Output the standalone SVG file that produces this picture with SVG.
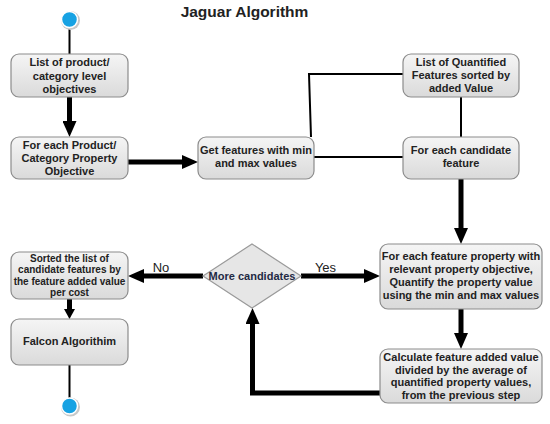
<svg xmlns="http://www.w3.org/2000/svg" width="550" height="424" viewBox="0 0 550 424">
<style>
.box{fill:url(#g);stroke:#8c8c8c;stroke-width:1.2}
.t{font-family:"Liberation Sans",Arial,sans-serif;font-weight:bold;font-size:11px;fill:#222;text-anchor:middle}
.ts{font-size:10px}
.thin{fill:none;stroke:#000;stroke-width:2}
.thick{fill:none;stroke:#000;stroke-width:5}
.lbl{font-family:"Liberation Sans",Arial,sans-serif;font-size:13px;fill:#222;text-anchor:middle}
.dot{fill:#17a2e3;stroke:#fff;stroke-width:1.5}
.sh{fill:#c8c8c8}
</style>
<defs>
<linearGradient id="g" x1="0" y1="0" x2="0" y2="1">
<stop offset="0" stop-color="#f5f5f5"/>
<stop offset="1" stop-color="#dadada"/>
</linearGradient>
<marker id="ah" markerWidth="16" markerHeight="14" refX="4" refY="7" orient="auto" markerUnits="userSpaceOnUse"><path d="M0,0 L16,7 L0,14 z" fill="#000"/></marker>
<marker id="ahs" markerWidth="10" markerHeight="11" refX="3" refY="5.5" orient="auto" markerUnits="userSpaceOnUse"><path d="M0,0 L10,5.5 L0,11 z" fill="#000"/></marker>
</defs>
<rect width="550" height="424" fill="#fff"/>
<text x="244.5" y="17" font-family="'Liberation Sans',Arial,sans-serif" font-weight="bold" font-size="15.5" fill="#222" text-anchor="middle">Jaguar Algorithm</text>
<g id="connectors">
<path class="thin" d="M69.5,27 V54"/>
<path class="thick" d="M69.5,97 V125" marker-end="url(#ah)"/>
<path class="thick" d="M128,162 H186" marker-end="url(#ah)"/>
<path class="thin" d="M311,137 L309,74 H403"/>
<path class="thin" d="M314,157 H403"/>
<path class="thin" d="M461,97 V137"/>
<path class="thick" d="M461,179 V232" marker-end="url(#ah)"/>
<path class="thick" d="M461,309 V337" marker-end="url(#ah)"/>
<path class="thick" d="M380,393 H252.5 V320" marker-end="url(#ah)"/>
<path class="thick" d="M301,276 H368" marker-end="url(#ah)"/>
<path class="thick" d="M203,276 H140" marker-end="url(#ah)"/>
<path class="thick" d="M69.5,299 V312" marker-end="url(#ahs)"/>
<path class="thin" d="M69.5,365 V398"/>
<text class="lbl" x="161" y="272">No</text>
<text class="lbl" x="325.5" y="272">Yes</text>
</g>
<g id="start"><circle class="sh" cx="70.5" cy="20.5" r="9.5"/><circle class="dot" cx="69.5" cy="19.5" r="8"/></g>
<g id="n1"><rect class="box" x="11" y="54" width="117" height="43" rx="8"/>
<text class="t" x="69.5" y="66">List of product/</text><text class="t" x="69.5" y="79.5">category level</text><text class="t" x="69.5" y="92.5">objectives</text></g>
<g id="n2"><rect class="box" x="11" y="137" width="117" height="42" rx="8"/>
<text class="t" x="69.5" y="149">For each Product/</text><text class="t" x="69.5" y="162">Category Property</text><text class="t" x="69.5" y="175">Objective</text></g>
<g id="n3"><rect class="box" x="198" y="137" width="116" height="42" rx="8"/>
<text class="t" x="256" y="154">Get features with min</text><text class="t" x="256" y="167">and max values</text></g>
<g id="n4"><rect class="box" x="403" y="54" width="116" height="43" rx="8"/>
<text class="t" x="461" y="66">List of Quantified</text><text class="t" x="461" y="79">Features sorted by</text><text class="t" x="461" y="92">added Value</text></g>
<g id="n5"><rect class="box" x="403" y="137" width="116" height="42" rx="8"/>
<text class="t" x="461" y="154">For each candidate</text><text class="t" x="461" y="167">feature</text></g>
<g id="n6"><rect class="box" x="380" y="244" width="162" height="65" rx="8"/>
<text class="t" x="461" y="260">For each feature property with</text><text class="t" x="461" y="273">relevant property objective,</text><text class="t" x="461" y="286">Quantify the property value</text><text class="t" x="461" y="299">using the min and max values</text></g>
<g id="n7"><rect class="box" x="380" y="349" width="162" height="54" rx="8"/>
<text class="t" x="461" y="361">Calculate feature added value</text><text class="t" x="461" y="373.5">divided by the average of</text><text class="t" x="461" y="386">quantified property values,</text><text class="t" x="461" y="398.5">from the previous step</text></g>
<g id="decision"><polygon points="203,276 252,244 301,276 252,308" fill="#e6e6e6" stroke="#9a9a9a" stroke-width="1.2"/>
<text class="t" x="252" y="280" style="fill:#1f2a44">More candidates</text></g>
<g id="n8"><rect class="box" x="11" y="252" width="117" height="47" rx="8"/>
<text class="t ts" x="69.5" y="262">Sorted the list of</text><text class="t ts" x="69.5" y="273.3">candidate features by</text><text class="t ts" x="69.5" y="284.6">the feature added value</text><text class="t ts" x="69.5" y="295.5">per cost</text></g>
<g id="n9"><rect class="box" x="11" y="319" width="117" height="46" rx="8"/>
<text class="t" x="69.5" y="345">Falcon Algorithim</text></g>
<g id="end"><circle class="sh" cx="70.5" cy="407" r="9.5"/><circle class="dot" cx="69.5" cy="406" r="8"/></g>
</svg>
